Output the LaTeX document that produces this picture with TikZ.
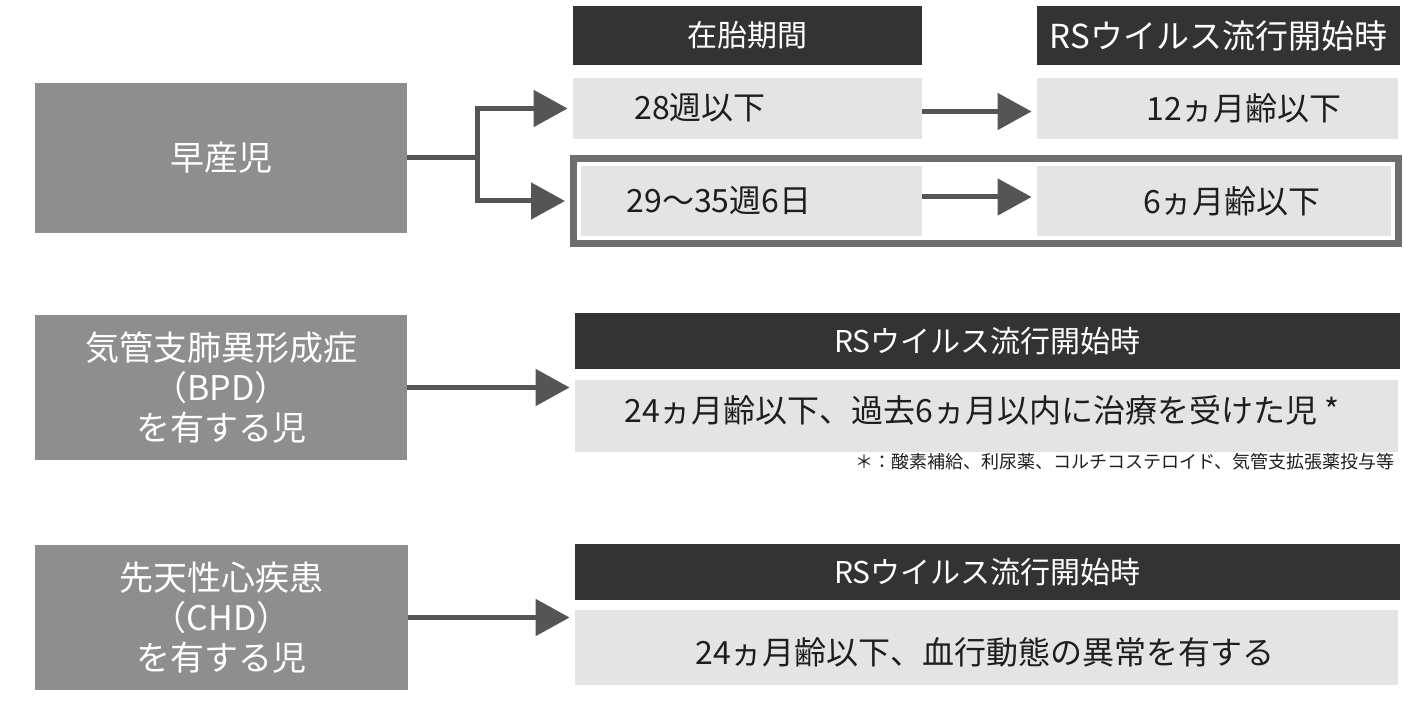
\documentclass[tikz,border=0pt]{standalone}
\usepackage{fontspec}
\setmainfont{Noto Sans CJK JP}
\usetikzlibrary{arrows.meta}
\definecolor{leftgray}{HTML}{8E8E8E}
\definecolor{hdr}{HTML}{333333}
\definecolor{light}{HTML}{E4E4E4}
\definecolor{bordergray}{HTML}{6E6E6E}
\definecolor{arrgray}{HTML}{555555}
\definecolor{ink}{HTML}{1E1E1E}
\begin{document}
\begin{tikzpicture}[x=0.5pt,y=-0.5pt,
  leftbox/.style={fill=leftgray, text=white, font=\fontsize{17}{20}\selectfont, align=center, inner sep=0pt, minimum width=186pt, minimum height=72.5pt},
  header/.style={fill=hdr, text=white, font=\fontsize{15}{18}\selectfont, inner sep=0pt, minimum height=28pt},
  lightbox/.style={fill=light, inner sep=0pt},
  boxtext/.style={font=\fontsize{16}{19}\selectfont, text=ink, inner sep=0pt},
  conn/.style={draw=arrgray, line width=2.5pt},
  arr/.style={conn, -{Triangle[length=17pt,width=18pt]}, shorten >=2.5pt},
  foot/.style={font=\fontsize{9}{11}\selectfont, text=ink, inner sep=0pt}]
\useasboundingbox (0,0) rectangle (1404,701);

% left boxes
\node[leftbox, minimum height=75pt] (L1) at (221,158) {早産児};
\node[leftbox] (L2) at (221,387.5) {気管支肺異形成症\\（BPD）\\を有する児};
\node[leftbox, minimum width=186.5pt] (L3) at (221.5,617.5) {先天性心疾患\\（CHD）\\を有する児};

% row 1
\node[header, minimum width=174.5pt, minimum height=29.5pt] (H1) at (747.5,35.5) {在胎期間};
\node[header, minimum width=181.5pt, minimum height=29.5pt, font=\fontsize{16.5}{19}\selectfont] (H2) at (1218.5,35.5) {RSウイルス流行開始時};
\node[lightbox, minimum width=174.5pt, minimum height=30.5pt] (B1) at (747.5,108.5) {};
\node[lightbox, minimum width=180.5pt, minimum height=30.5pt] (B2) at (1217.5,108.5) {};
\node[draw=bordergray, line width=3.5pt, inner sep=0pt, minimum width=412.5pt, minimum height=42.5pt] (BX) at (986,201) {};
\node[lightbox, minimum width=170.5pt, minimum height=35pt] (B3) at (751.5,201) {};
\node[lightbox, minimum width=177pt, minimum height=35pt] (B4) at (1214,201) {};
\node[boxtext] (T1) at (700,108) {28週以下};
\node[boxtext] (T2) at (1244,108) {12ヵ月齢以下};
\node[boxtext] (T3) at (719,201) {29～35週6日};
\node[boxtext] (T4) at (1232,201) {6ヵ月齢以下};

% row 2
\node[header, minimum width=412.5pt] (H3) at (987.5,341) {RSウイルス流行開始時};
\node[lightbox, minimum width=411.5pt, minimum height=36pt] (B5) at (986.5,416) {};
\node[boxtext] (T5) at (982,410) {24ヵ月齢以下、過去6ヵ月以内に治療を受けた児 *};
\node[foot, anchor=east] (F) at (1395,462) {＊：酸素補給、利尿薬、コルチコステロイド、気管支拡張薬投与等};

% row 3
\node[header, minimum width=412.5pt] (H4) at (987.5,572) {RSウイルス流行開始時};
\node[lightbox, minimum width=411.5pt, minimum height=37.5pt] (B6) at (986.5,647.5) {};
\node[boxtext] (T6) at (985,652) {24ヵ月齢以下、血行動態の異常を有する};

% connectors
\coordinate (J) at (477,158);
\draw[conn] (L1.east) -- (J);
\draw[arr] (J) |- (B1.west);
\draw[arr] (J) |- (BX.west);
\draw[arr] ([yshift=-1.5pt]B1.east) -- ([yshift=-1.5pt]B2.west);
\draw[arr] ([yshift=2pt]B3.east) -- ([yshift=2pt]B4.west);
\draw[arr] (L2.east) -- (L2.east -| B5.west);
\draw[arr] (L3.east) -- (L3.east -| B6.west);
\end{tikzpicture}
\end{document}
